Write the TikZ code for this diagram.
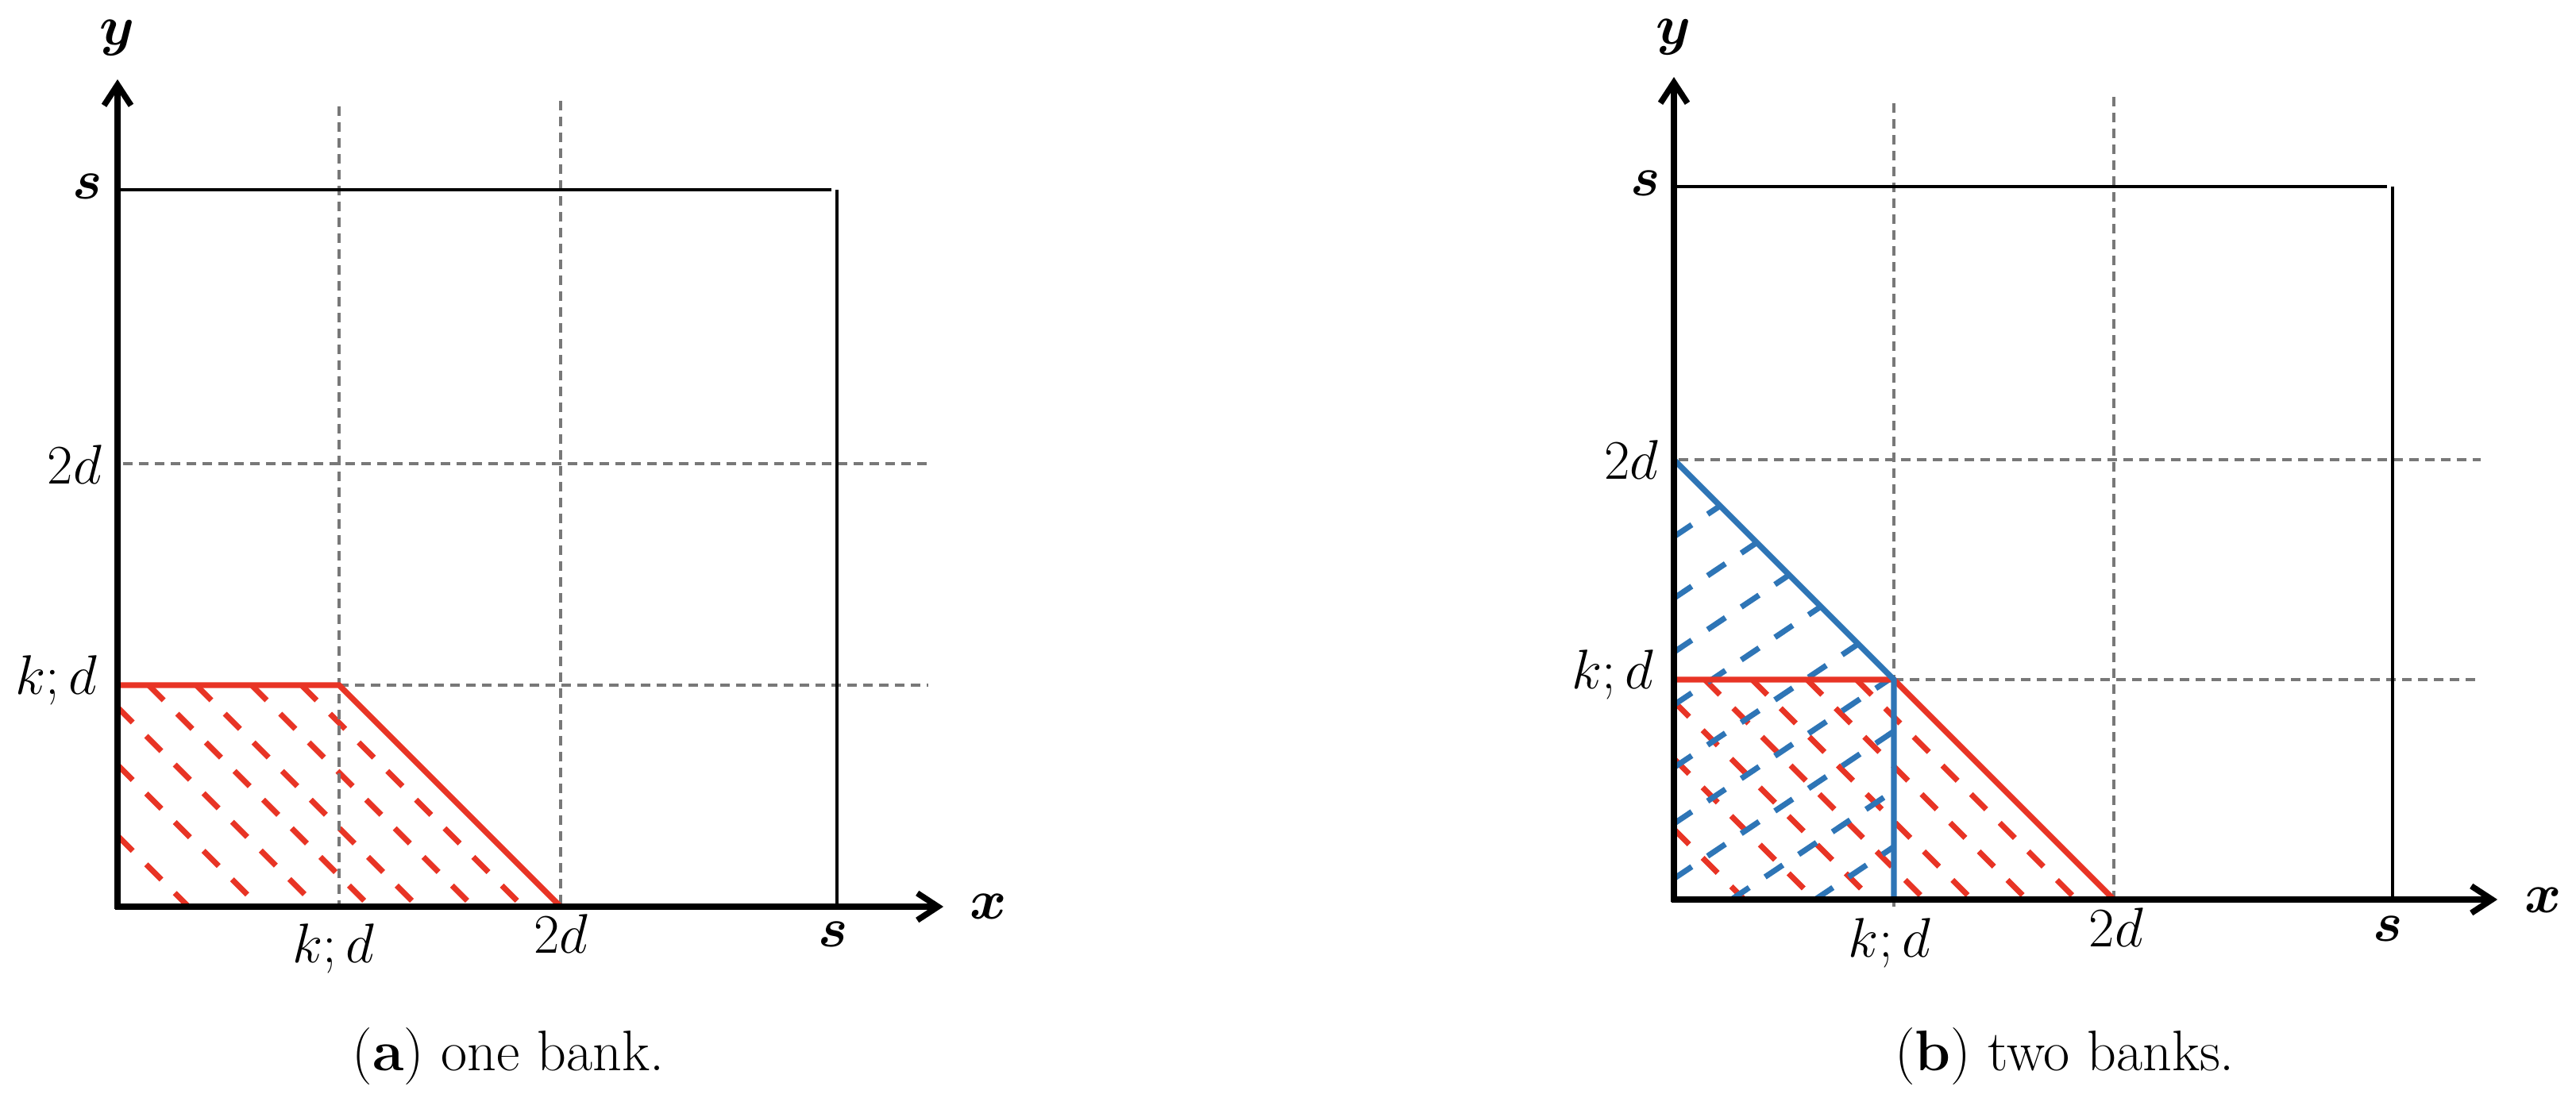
\RequirePackage{fix-cm}
\documentclass[tikz,border=0pt]{standalone}
\usepackage{amsmath,bm}
\usepackage{fontspec}
\usetikzlibrary{arrows.meta}
\definecolor{myred}{RGB}{232,52,37}
\definecolor{myblue}{RGB}{46,117,182}
\definecolor{mygray}{RGB}{120,120,120}
\tikzset{
 axisline/.style={line width=2.15pt, -{Straight Barb[length=0.26cm,width=0.34cm]}},
 sline/.style={line width=1.3pt},
 guide/.style={mygray, line width=0.95pt, dash pattern=on 0.12cm off 0.08cm},
 redsolid/.style={myred, line width=2.1pt},
 bluesolid/.style={myblue, line width=2.1pt},
 redhatch/.style={myred, line width=2pt, dash pattern=on 0.27cm off 0.24cm},
 bluehatch/.style={myblue, line width=2pt, dash pattern=on 0.27cm off 0.24cm},
 lab/.style={inner sep=0pt, font=\fontsize{20}{24}\selectfont},
 captext/.style={inner sep=0pt, anchor=base, font=\fontsize{20.5}{24}\selectfont},
}
\begin{document}
\begin{tikzpicture}
\useasboundingbox (0,0) rectangle (32.44,13.82);
% ---------------- panel (a)
\begin{scope}[shift={(1.48cm,2.40cm)}, x=2.79cm, y=2.79cm]
 \coordinate (Oa) at (0,0);
 \coordinate (Ya0) at (0,-0.0125);
 \coordinate (Xa0) at (-0.0125,0);
 \coordinate (Yatip) at (0,3.735);
 \coordinate (Xatip) at (3.728,0);
 \coordinate (Ka) at (1,1);
 \coordinate (Ha) at (0,1);
 \coordinate (Da) at (2,0);
 % hatching
 \foreach \c in {0.32,0.64,0.90} \draw[redhatch] (0,\c) -- (\c,0);
 \foreach \c in {1.14,1.355,1.605,1.83} \draw[redhatch] (\c-1,1) -- (\c,0);
 % guides
 \draw[guide] (1,3.613) -- (1,-0.03);
 \draw[guide] (2,3.638) -- (2,0);
 \draw[guide] (0.025,2) -- (3.66,2);
 \draw[guide] (Ka) -- (3.66,1);
 % red boundary
 \draw[redsolid] (Ha) -- (Ka) -- (Da);
 % s lines
 \draw[sline] (0,3.236) -- (3.222,3.236);
 \draw[sline] (3.247,3.236) -- (3.247,0);
 % axes
 \draw[axisline] (Ya0) -- (Yatip);
 \draw[axisline] (Xa0) -- (Xatip);
 % labels
 \node[lab, anchor=base] (ya) at (0,3.89) {$\bm{y}$};
 \node[lab, anchor=base east] (sa) at (-0.065,3.197) {$\bm{s}$};
 \node[lab, anchor=base east] (d2a) at (-0.07,1.91) {$2d$};
 \node[lab, anchor=base east] (kda) at (-0.09,0.957) {$k;d$};
 \node[lab, anchor=base] (kdxa) at (0.975,-0.254) {$k;d$};
 \node[lab, anchor=base] (d2xa) at (2.0,-0.208) {$2d$};
 \node[lab, anchor=base] (sxa) at (3.23,-0.18) {$\bm{s}$};
 \node[lab, anchor=base] (xa) at (3.932,-0.054) {$\bm{x}$};
\end{scope}
% ---------------- panel (b)
\begin{scope}[shift={(21.08cm,2.49cm)}, x=2.77cm, y=2.77cm]
 \coordinate (Ob) at (0,0);
 \coordinate (Yb0) at (0,-0.0125);
 \coordinate (Xb0) at (-0.0125,0);
 \coordinate (Ybtip) at (0,3.74);
 \coordinate (Xbtip) at (3.744,0);
 \coordinate (Kb) at (1,1);
 \coordinate (Hb) at (0,1);
 \coordinate (Db) at (2,0);
 \coordinate (Tb) at (0,2);
 \coordinate (Bb) at (1,0);
 % red hatching
 \foreach \c in {0.32,0.64,0.90} \draw[redhatch] (0,\c) -- (\c,0);
 \foreach \c in {1.14,1.355,1.605,1.83} \draw[redhatch] (\c-1,1) -- (\c,0);
 % blue hatching
 \draw[bluehatch] (0.6418,0) -- (1,0.24);
 \draw[bluehatch] (0.2612,0) -- (1,0.495);
 \draw[bluehatch] (0,0.095) -- (1,0.765);
 \draw[bluehatch] (0,0.345) -- (0.991,1.009);
 \draw[bluehatch] (0,0.60) -- (0.838,1.162);
 \draw[bluehatch] (0,0.885) -- (0.668,1.332);
 \draw[bluehatch] (0,1.125) -- (0.524,1.476);
 \draw[bluehatch] (0,1.37) -- (0.377,1.623);
 \draw[bluehatch] (0,1.65) -- (0.21,1.79);
 % guides
 \draw[guide] (1,3.62) -- (1,-0.05);
 \draw[guide] (2,3.65) -- (2,0);
 \draw[guide] (0.02,2) -- (3.668,2);
 \draw[guide] (Kb) -- (3.668,1);
 % boundaries
 \draw[redsolid] (Hb) -- (Kb) -- (Db);
 \draw[bluesolid] (Tb) -- (Kb) -- (Bb);
 % s lines
 \draw[sline] (0,3.242) -- (3.242,3.242);
 \draw[sline] (3.267,3.242) -- (3.267,0);
 % axes
 \draw[axisline] (Yb0) -- (Ybtip);
 \draw[axisline] (Xb0) -- (Xbtip);
 % labels
 \node[lab, anchor=base] (yb) at (0,3.89) {$\bm{y}$};
 \node[lab, anchor=base east] (sb) at (-0.06,3.2) {$\bm{s}$};
 \node[lab, anchor=base east] (d2b) at (-0.068,1.91) {$2d$};
 \node[lab, anchor=base east] (kdb) at (-0.09,0.96) {$k;d$};
 \node[lab, anchor=base] (kdxb) at (0.98,-0.26) {$k;d$};
 \node[lab, anchor=base] (d2xb) at (2.01,-0.216) {$2d$};
 \node[lab, anchor=base] (sxb) at (3.245,-0.188) {$\bm{s}$};
 \node[lab, anchor=base] (xb) at (3.953,-0.06) {$\bm{x}$};
\end{scope}
% captions
\node[captext] (capa) at (6.40,0.34) {(\textbf{a}) one bank.};
\node[captext] (capb) at (26.00,0.34) {(\textbf{b}) two banks.};
\end{tikzpicture}
\end{document}
